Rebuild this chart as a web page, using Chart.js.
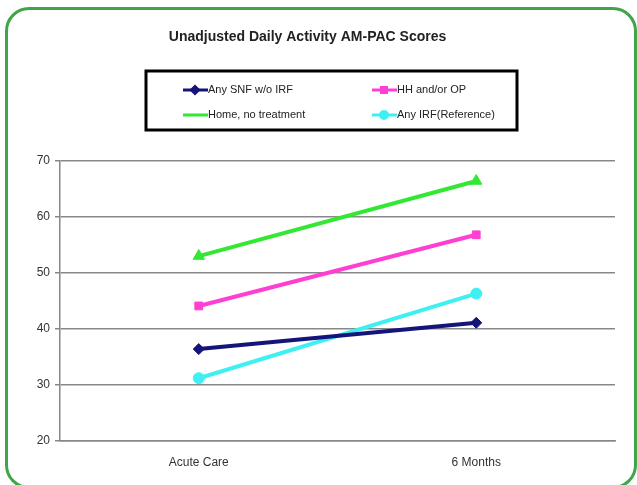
<!DOCTYPE html>
<html>
<head>
<meta charset="utf-8">
<script src="https://cdn.jsdelivr.net/npm/chart.js@4.4.1/dist/chart.umd.min.js"></script>
<style>
  html, body { margin: 0; padding: 0; background: #fff; overflow: hidden; }
  #wrap { position: relative; width: 637px; height: 485px; overflow: hidden; }
  #frame {
    position: absolute; left: 5px; top: 7px; width: 632px; height: 482px;
    border: 3px solid #3fa548; border-radius: 24px; box-sizing: border-box;
  }
  canvas { position: absolute; left: 0; top: 0; }
</style>
</head>
<body>
<div id="wrap">
  <div id="frame"></div>
  <canvas id="lineChart" width="637" height="485"></canvas>
</div>
<script>
// categories and scores
const periods = ["Acute Care", "6 Months"];
const seriesNames = ["Any SNF w/o IRF", "HH and/or OP", "Home, no treatment", "Any IRF(Reference)"];
const snfScores = [36.4, 41.1];
const hhScores = [44.1, 56.8];
const homeScores = [53.0, 66.4];
const irfScores = [31.2, 46.3];
const yTicks = [20, 30, 40, 50, 60, 70];

const lineColors = ["#14147a", "#ff3fd2", "#33e833", "#3ff0f2"];
const markers = ["rectRot", "rect", "triangle", "circle"];

// boxed two-column legend under the title
const boxLegend = {
  id: "boxLegend",
  afterDraw(chart) {
    const ctx = chart.ctx;
    ctx.save();
    ctx.strokeStyle = "#000";
    ctx.lineWidth = 3;
    ctx.strokeRect(146, 71, 371, 59);
    ctx.font = "11px 'Liberation Sans', Arial, sans-serif";
    ctx.textBaseline = "middle";
    ctx.fillStyle = "#222";
    const cols = [183, 372];
    const rows = [90, 115];
    chart.data.datasets.forEach((ds, i) => {
      const x = cols[i % 2];
      const y = rows[Math.floor(i / 2)];
      ctx.strokeStyle = ds.borderColor;
      ctx.lineWidth = 3;
      ctx.beginPath();
      ctx.moveTo(x, y);
      ctx.lineTo(x + 25, y);
      ctx.stroke();
      if (i !== 2) {
        Chart.helpers.drawPoint(ctx, {
          pointStyle: ds.pointStyle, radius: 3.5, borderWidth: 1, rotation: 0
        }, x + 12, y);
        ctx.fillStyle = ds.borderColor;
        ctx.fill();
      }
      ctx.fillStyle = "#222";
      ctx.fillText(ds.label, x + 25, y);
    });
    ctx.restore();
  }
};

const series = [snfScores, hhScores, homeScores, irfScores];

new Chart(document.getElementById("lineChart"), {
  type: "line",
  data: {
    labels: periods,
    datasets: series.map((vals, i) => ({
      label: seriesNames[i],
      data: vals,
      borderColor: lineColors[i],
      backgroundColor: lineColors[i],
      borderWidth: 4,
      pointStyle: markers[i],
      pointRadius: i === 2 ? 6.5 : 5.5,
      pointBorderWidth: 1,
      tension: 0
    }))
  },
  options: {
    responsive: false,
    animation: false,
    layout: { padding: { top: 0, right: 22, bottom: 0, left: 0 } },
    plugins: {
      legend: { display: false },
      tooltip: { enabled: false },
      title: {
        display: true,
        text: "Unadjusted Daily Activity AM-PAC Scores",
        color: "#222",
        font: { family: "'Liberation Sans', Arial, sans-serif", size: 14, weight: "bold" },
        padding: { top: 29, bottom: 115 }
      }
    },
    scales: {
      x: {
        offset: true,
        grid: { display: false, drawTicks: false },
        border: { display: true, color: "#888", width: 1.5 },
        ticks: {
          padding: 14,
          color: "#333",
          font: { family: "'Liberation Sans', Arial, sans-serif", size: 12 }
        },
        afterFit(scale) { scale.height = 44; }
      },
      y: {
        min: 20,
        max: 70,
        afterBuildTicks(scale) { scale.ticks = yTicks.map(v => ({ value: v })); },
        grid: { color: "#888", lineWidth: 1.5, tickLength: 5 },
        border: { display: true, color: "#888", width: 1.5 },
        ticks: {
          padding: 5,
          color: "#333",
          font: { family: "'Liberation Sans', Arial, sans-serif", size: 12 }
        },
        afterFit(scale) { scale.width = 60; }
      }
    }
  },
  plugins: [boxLegend]
});
</script>
</body>
</html>
